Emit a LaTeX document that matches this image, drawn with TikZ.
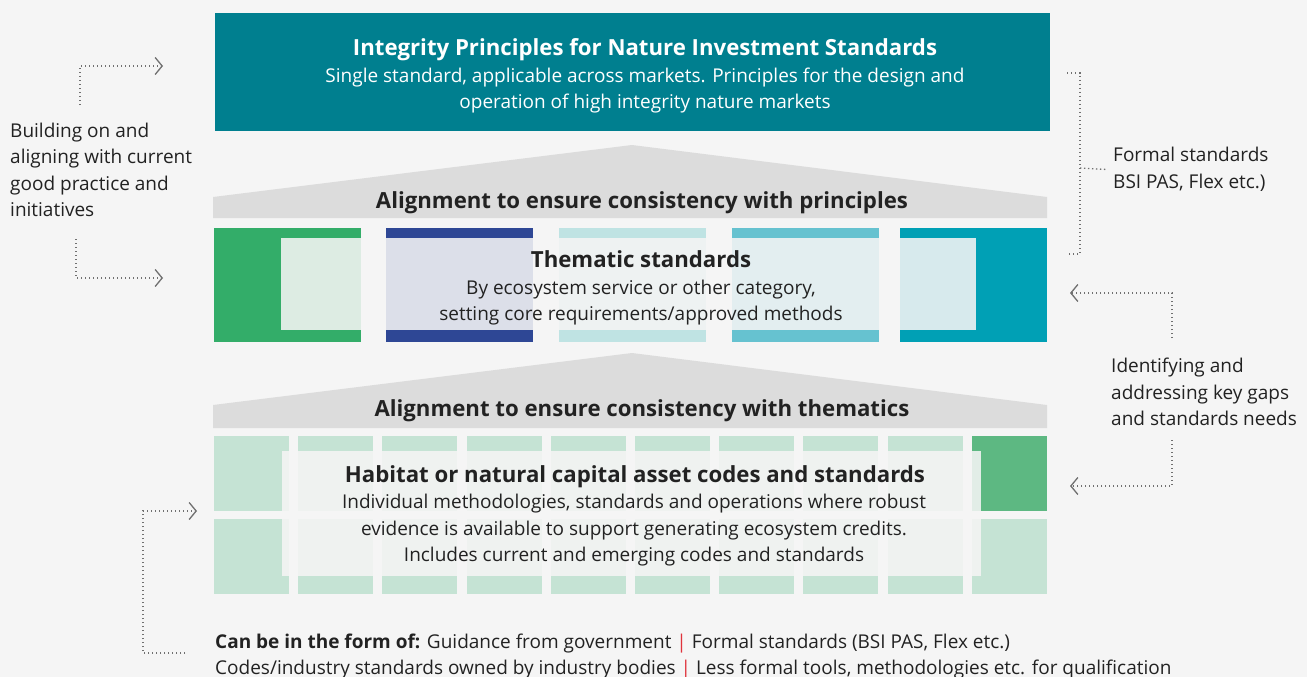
\documentclass[tikz,border=0pt]{standalone}
\usepackage{fontspec}
\setmainfont{Open Sans}
\usetikzlibrary{arrows.meta}

\definecolor{bggrey}{HTML}{F5F5F5}
\definecolor{roofgrey}{HTML}{DCDCDC}
\definecolor{textdark}{HTML}{222222}
\definecolor{topteal}{HTML}{007F8F}
\definecolor{thgreen}{HTML}{33AD69}
\definecolor{thblue}{HTML}{2E4795}
\definecolor{thpale}{HTML}{BFE3E3}
\definecolor{thmid}{HTML}{66C2D0}
\definecolor{thteal}{HTML}{00A0B5}
\definecolor{habpale}{HTML}{C5E3D4}
\definecolor{habdark}{HTML}{5DB882}
\definecolor{pipered}{HTML}{E0333C}
\definecolor{dotgrey}{HTML}{707070}

\begin{document}
\begin{tikzpicture}[x=1pt, y=-1pt, >={Straight Barb[length=7pt,width=17pt,line width=1.3pt]}]
        \tikzstyle{block}=[anchor=north west, inner sep=0pt, outer sep=0pt]
        \tikzstyle{txt}=[text=textdark, align=center, inner sep=0pt, font=\fontsize{19}{26.5}\selectfont]
        \tikzstyle{head}=[text=textdark, inner sep=0pt, font=\fontsize{22.2}{26}\selectfont\bfseries]
        \tikzstyle{side}=[text=textdark, align=left, inner sep=0pt, anchor=west, font=\fontsize{19}{26.5}\selectfont]
        \tikzstyle{dots}=[draw=dotgrey, line width=1.3pt, dash pattern=on 1.3pt off 2.7pt]

        \fill[bggrey] (0,0) rectangle (1307,677);
        \useasboundingbox (0,0) rectangle (1307,677);

        % top box
        \node[block, fill=topteal, minimum width=835, minimum height=118](top) at (215,13){};
        \node[head, text=white](toptitle) at (645,50){Integrity Principles for Nature Investment Standards};
        \node[txt, text=white](topbody) at (645,90.5){Single standard, applicable across markets. Principles for the design and\\operation of high integrity nature markets};

        % roof 1
        \fill[roofgrey] (213,218) -- (213,197) -- (632,145) -- (1047,197) -- (1047,218) -- cycle;
        \node[head](roof1) at (642,203){Alignment to ensure consistency with principles};

        % thematic row
        \node[block, fill=thgreen, minimum width=147, minimum height=114](th1) at (214,228){};
        \node[block, fill=thblue, minimum width=147, minimum height=114](th2) at (386,228){};
        \node[block, fill=thpale, minimum width=147, minimum height=114](th3) at (559,228){};
        \node[block, fill=thmid, minimum width=147, minimum height=114](th4) at (732,228){};
        \node[block, fill=thteal, minimum width=147, minimum height=114](th5) at (900,228){};
        \fill[bggrey, opacity=0.88] (281,238) rectangle (976,330);
        \node[head](thtitle) at (641,259){Thematic standards};
        \node[txt](thbody) at (641,302.5){By ecosystem service or other category,\\setting core requirements/approved methods};

        % roof 2
        \fill[roofgrey] (213,428) -- (213,405) -- (632,353) -- (1047,405) -- (1047,428) -- cycle;
        \node[head](roof2) at (642,411){Alignment to ensure consistency with thematics};

        % habitat grid
        \foreach \i in {0,...,9}{
            \node[block, fill=habpale, minimum width=75, minimum height=75](hab-\i-0) at (214+\i*84.2,436){};
            \node[block, fill=habpale, minimum width=75, minimum height=75](hab-\i-1) at (214+\i*84.2,519){};
        }
        \node[block, fill=habdark, minimum width=75, minimum height=75](habtop) at (972,436){};
        \fill[bggrey, opacity=0.88] (282,451) rectangle (981,576);
        \node[head](habtitle) at (635,477){Habitat or natural capital asset codes and standards};
        \node[txt](habbody) at (634,530.5){Individual methodologies, standards and operations where robust\\evidence is available to support generating ecosystem credits.\\Includes current and emerging codes and standards};

        % bottom note
        \node[side](note) at (215,656.5){\textbf{Can be in the form of:} Guidance from government \textcolor{pipered}{|} Formal standards (BSI PAS, Flex etc.)\\Codes/industry standards owned by industry bodies \textcolor{pipered}{|} Less formal tools, methodologies etc. for qualification};

        % side texts
        \node[side](build) at (10,170){Building on and\\aligning with current\\good practice and\\initiatives};
        \node[side](formal) at (1113,169.5){Formal standards\\BSI PAS, Flex etc.)};
        \node[side](gaps) at (1111,392){Identifying and\\addressing key gaps\\and standards needs};

        % connectors
        \coordinate (lt1) at (80,105);
        \coordinate (lt2) at (163,66);
        \coordinate (lb1) at (76,239);
        \coordinate (lb2) at (163,278);
        \coordinate (brtop) at (1067,73);
        \coordinate (brbot) at (1067,254);
        \coordinate (brmid) at (1080,168);
        \coordinate (rg1) at (1172,338);
        \coordinate (rg1tip) at (1070,293);
        \coordinate (rg2) at (1172,440);
        \coordinate (rg2tip) at (1070,486);
        \coordinate (bl1) at (185,653);
        \coordinate (bl2) at (197,511);

        \draw[dots, ->] (lt1) |- (lt2);
        \draw[dots, ->] (lb1) |- (lb2);
        \draw[dots] (brtop) -- ++(13,0) |- (brbot);
        \draw[dots] (brmid) -- ([xshift=-6pt]formal.west);
        \draw[dots, ->] (rg1) |- (rg1tip);
        \draw[dots, ->] (rg2) |- (rg2tip);
        \draw[dots, ->] (bl1) -- ++(-42,0) |- (bl2);

\end{tikzpicture}
\end{document}
